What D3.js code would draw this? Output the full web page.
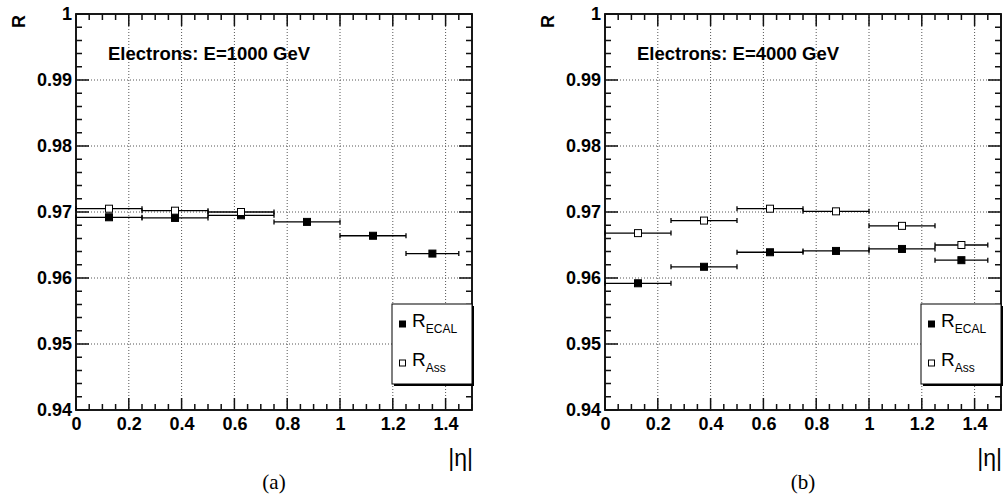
<!DOCTYPE html>
<html>
<head>
<meta charset="utf-8">
<script src="https://cdn.jsdelivr.net/npm/d3@7"></script>
<style>
  body { margin: 0; background: #fff; }
  svg { display: block; }
</style>
</head>
<body>
<div id="chart"></div>
<script>
// eta bins (shared by both panels)
const binLo = [0, 0.25, 0.5, 0.75, 1.0, 1.25];
const binHi = [0.25, 0.5, 0.75, 1.0, 1.25, 1.45];
const binCenter = [0.125, 0.375, 0.625, 0.875, 1.125, 1.35];

// panel (a): E = 1000 GeV
const ecalA = [0.9692, 0.9691, 0.9695, 0.9685, 0.9664, 0.9637];
const assA = [0.9705, 0.9702, 0.9700];

// panel (b): E = 4000 GeV
const ecalB = [0.9592, 0.9617, 0.9639, 0.9641, 0.9644, 0.9627];
const assB = [0.9668, 0.9687, 0.9705, 0.9701, 0.9679, 0.9650];

const xTicks = [0, 0.2, 0.4, 0.6, 0.8, 1, 1.2, 1.4];
const yTicks = [0.94, 0.95, 0.96, 0.97, 0.98, 0.99, 1];

const panels = [
  { left: 76, title: 'Electrons: E=1000 GeV', tag: '(a)', ecal: ecalA, ass: assA },
  { left: 605, title: 'Electrons: E=4000 GeV', tag: '(b)', ecal: ecalB, ass: assB },
];

const W = 1004, H = 497;
const plotTop = 14, plotBottom = 410, pw = 396;

const svg = d3.select('#chart').append('svg')
  .attr('width', W).attr('height', H)
  .style('font-family', '"Liberation Sans", Arial, sans-serif');

panels.forEach((p) => {
  const g = svg.append('g').attr('transform', `translate(${p.left},0)`);

  const x = d3.scaleLinear().domain([0, 1.5]).range([0, pw]);
  const y = d3.scaleLinear().domain([0.94, 1]).range([plotBottom, plotTop]);

  // grid
  g.append('g').selectAll('line')
    .data(xTicks.filter((t) => t > 0))
    .join('line')
    .attr('x1', (d) => x(d)).attr('x2', (d) => x(d))
    .attr('y1', plotTop).attr('y2', plotBottom)
    .attr('stroke', '#555').attr('stroke-width', 1)
    .attr('stroke-dasharray', '1,2');
  g.append('g').selectAll('line')
    .data(yTicks.filter((t) => t > 0.94 && t < 1))
    .join('line')
    .attr('x1', 0).attr('x2', pw)
    .attr('y1', (d) => y(d)).attr('y2', (d) => y(d))
    .attr('stroke', '#555').attr('stroke-width', 1)
    .attr('stroke-dasharray', '1,2');

  // frame
  g.append('rect').attr('x', 0).attr('y', plotTop).attr('width', pw).attr('height', plotBottom - plotTop)
    .attr('fill', 'none').attr('stroke', '#000').attr('stroke-width', 1.8);

  // tick marks on all four sides, pointing inwards
  const minorX = d3.range(0, 1.5001, 0.05).map((v) => +v.toFixed(2));
  const minorY = d3.range(0.94, 1.0001, 0.002).map((v) => +v.toFixed(3));
  const isMajorX = (v) => Math.abs(v * 5 - Math.round(v * 5)) < 1e-6;
  const isMajorY = (v) => Math.abs(v * 100 - Math.round(v * 100)) < 1e-6;
  let ticksPath = '';
  minorX.forEach((v) => {
    const len = isMajorX(v) ? 12 : 6;
    ticksPath += `M${x(v)},${plotBottom}v${-len}M${x(v)},${plotTop}v${len}`;
  });
  minorY.forEach((v) => {
    const len = isMajorY(v) ? 13 : 6;
    ticksPath += `M0,${y(v)}h${len}M${pw},${y(v)}h${-len}`;
  });
  g.append('path').attr('d', ticksPath)
    .attr('fill', 'none').attr('stroke', '#111').attr('stroke-width', 1.5);

  // tick labels
  const xAx = g.append('g').attr('transform', `translate(0,${plotBottom})`)
    .call(d3.axisBottom(x).tickValues(xTicks).tickSize(0)
      .tickPadding(7).tickFormat((d) => d3.format('')(+d.toFixed(1))));
  xAx.select('.domain').remove();
  xAx.selectAll('text').attr('font-size', 18).attr('font-weight', 'bold')
    .attr('fill', '#000').attr('font-family', '"Liberation Sans", Arial, sans-serif');
  const yAx = g.append('g')
    .call(d3.axisLeft(y).tickValues(yTicks).tickSize(0)
      .tickPadding(4).tickFormat((d) => d3.format('')(+d.toFixed(2))));
  yAx.select('.domain').remove();
  yAx.selectAll('text').attr('font-size', 18).attr('font-weight', 'bold')
    .attr('fill', '#000').attr('font-family', '"Liberation Sans", Arial, sans-serif');

  // axis titles
  g.append('text')
    .attr('transform', `translate(${-51},${plotTop + 1}) rotate(-90)`)
    .attr('text-anchor', 'end')
    .attr('font-size', 18).attr('font-weight', 'bold').text('R');
  g.append('text')
    .attr('x', pw + 1).attr('y', 466).attr('text-anchor', 'end')
    .attr('font-size', 23)
    .text('|η|');
  g.append('text')
    .attr('x', pw / 2).attr('y', 489).attr('text-anchor', 'middle')
    .attr('font-size', 21).attr('font-family', '"Liberation Serif", "Times New Roman", serif')
    .text(p.tag);

  // title inside the frame
  g.append('text')
    .attr('x', 32).attr('y', 60)
    .attr('font-size', 18.5).attr('font-weight', 'bold')
    .text(p.title);

  // series
  const series = [
    { vals: p.ecal, fill: '#000' },
    { vals: p.ass, fill: '#fff' },
  ];
  series.forEach((s) => {
    const pts = s.vals.map((v, i) => ({ v, i }));
    const eg = g.append('g');
    const line = (sel) => sel.attr('stroke', '#000').attr('stroke-width', 1.3);
    eg.selectAll('line.h').data(pts).join('line').attr('class', 'h')
      .attr('x1', (d) => x(binLo[d.i])).attr('x2', (d) => x(binHi[d.i]))
      .attr('y1', (d) => y(d.v)).attr('y2', (d) => y(d.v)).call(line);
    eg.selectAll('line.cl').data(pts).join('line').attr('class', 'cl')
      .attr('x1', (d) => x(binLo[d.i])).attr('x2', (d) => x(binLo[d.i]))
      .attr('y1', (d) => y(d.v) - 2.5).attr('y2', (d) => y(d.v) + 2.5).call(line);
    eg.selectAll('line.cr').data(pts).join('line').attr('class', 'cr')
      .attr('x1', (d) => x(binHi[d.i])).attr('x2', (d) => x(binHi[d.i]))
      .attr('y1', (d) => y(d.v) - 2.5).attr('y2', (d) => y(d.v) + 2.5).call(line);
    eg.selectAll('rect').data(pts).join('rect')
      .attr('x', (d) => x(binCenter[d.i]) - 3.5).attr('y', (d) => y(d.v) - 3.5)
      .attr('width', 7).attr('height', 7)
      .attr('fill', s.fill).attr('stroke', '#000').attr('stroke-width', 1);
  });

  // legend
  const lg = g.append('g').attr('transform', `translate(${pw - 80},304)`);
  lg.append('rect').attr('x', 2).attr('y', 2).attr('width', 80).attr('height', 80).attr('fill', '#000');
  lg.append('rect').attr('x', 0).attr('y', 0).attr('width', 80).attr('height', 80)
    .attr('fill', '#fff').attr('stroke', '#000').attr('stroke-width', 1);
  const entries = [
    { sub: 'ECAL', fill: '#000', cy: 20 },
    { sub: 'Ass', fill: '#fff', cy: 59 },
  ];
  entries.forEach((e) => {
    lg.append('rect').attr('x', 7.5).attr('y', e.cy - 3).attr('width', 6).attr('height', 6)
      .attr('fill', e.fill).attr('stroke', '#000').attr('stroke-width', 1);
    const t = lg.append('text').attr('x', 20).attr('y', e.cy + 3).attr('font-size', 19);
    t.append('tspan').text('R');
    t.append('tspan').attr('dy', 6).attr('font-size', 12).text(e.sub);
  });
});
</script>
</body>
</html>
